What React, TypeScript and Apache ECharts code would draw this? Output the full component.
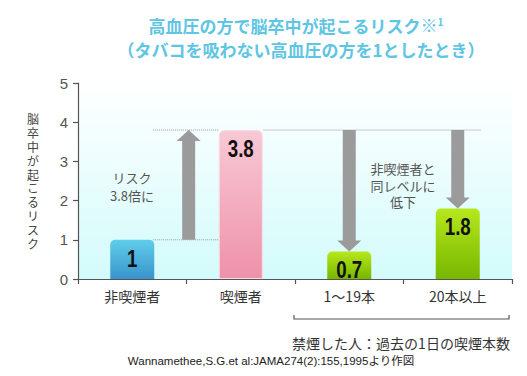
import React, { useEffect, useRef } from "react";
import * as echarts from "echarts";

const categories = ["非喫煙者", "喫煙者", "1〜19本", "20本以上"];
const riskValues = [1, 3.8, 0.7, 1.8];
const yTicks = { min: 0, max: 5, interval: 1 };
const yAxisName = "脳卒中が起こるリスク";
const titleLine1 = "高血圧の方で脳卒中が起こるリスク";
const titleLine2 = "（タバコを吸わない高血圧の方を1としたとき）";
const noteUp = "リスク\n3.8倍に";
const noteDown = "非喫煙者と\n同レベルに\n低下";
const bracketLabel = "禁煙した人：過去の1日の喫煙本数";
const citation = "Wannamethee,S.G.et al:JAMA274(2):155,1995より作図";
// arrows: [x position (category units), from, to]
const arrows = [
  [0.52, 1, 3.8],
  [2, 3.8, 0.7],
  [3, 3.8, 1.8],
];
// dotted guide lines: [x0, x1, y]
const guides = [
  [0.19, 0.8, 1],
  [0.19, 0.8, 3.8],
  [1.21, 3.21, 3.8],
];

const barColors = [
  ["#60cdea", "#3994cc"],
  ["#f8c9d5", "#ee91aa"],
  ["#b6e81c", "#78b600"],
  ["#b6e81c", "#78b600"],
];

const JP = '"Noto Sans CJK JP", "Noto Sans", sans-serif';

export default function App() {
  const ref = useRef<HTMLDivElement>(null);
  useEffect(() => {
    if (!ref.current) return;
    const chart = echarts.init(ref.current, null, { renderer: "svg" });
    const grad = (a: string, b: string) =>
      new echarts.graphic.LinearGradient(0, 0, 0, 1, [
        { offset: 0, color: a },
        { offset: 1, color: b },
      ]);
    const option: any = {
      animation: false,
      backgroundColor: "#ffffff",
      textStyle: { fontFamily: JP },
      title: [
        {
          text: titleLine1 + "{m|※}{s|1}",
          left: 291,
          top: 11,
          textAlign: "center",
          textStyle: {
            fontFamily: JP,
            fontSize: 17,
            fontWeight: "bold",
            color: "#5ec5e3",
            rich: {
              m: { fontFamily: JP, fontSize: 17, fontWeight: "bold", color: "#5ec5e3", verticalAlign: "top", padding: [0, 0, 2, 0] },
              s: { fontFamily: JP, fontSize: 10, fontWeight: "bold", color: "#5ec5e3", verticalAlign: "top", padding: [0, 0, 8, 0] },
            },
          },
        },
        {
          text: titleLine2,
          left: 296,
          top: 36,
          textAlign: "center",
          textStyle: { fontFamily: JP, fontSize: 17, fontWeight: "bold", color: "#5ec5e3" },
        },
      ],
      grid: {
        left: 78,
        right: 15,
        top: 83,
        bottom: 97,
        show: true,
        borderWidth: 0,
        backgroundColor: grad("#ffffff", "#d3fbfb"),
      },
      xAxis: [
        {
          type: "category",
          data: categories,
          boundaryGap: true,
          axisLine: { onZero: false, lineStyle: { color: "#555", width: 1.2 } },
          axisTick: { show: true, length: 5, lineStyle: { color: "#555", width: 1.2 } },
          axisLabel: { color: "#333", fontSize: 14, margin: 10, fontFamily: JP },
        },
        { type: "value", min: -0.5, max: 3.5, show: false, axisLine: { onZero: false } },
      ],
      yAxis: {
        type: "value",
        min: yTicks.min,
        max: yTicks.max,
        interval: yTicks.interval,
        axisLine: { show: true, onZero: false, lineStyle: { color: "#555", width: 1.2 } },
        axisTick: { show: true, length: 5, lineStyle: { color: "#555", width: 1.2 } },
        axisLabel: { color: "#555", fontSize: 15, margin: 10, fontFamily: '"Liberation Sans", Arial, sans-serif' },
        splitLine: { show: false },
      },
      series: [
        {
          type: "bar",
          xAxisIndex: 0,
          barWidth: 44,
          data: riskValues.map((v, i) => ({
            value: v,
            itemStyle: {
              color: grad(barColors[i][0], barColors[i][1]),
              borderRadius: [5, 5, 0, 0],
              borderColor: i === 1 ? "#fbdbe4" : undefined,
              borderWidth: i === 1 ? 1 : 0,
            },
          })),
          z: 2,
        },
        {
          type: "custom",
          xAxisIndex: 0,
          data: riskValues.map((v, i) => [i, v]),
          encode: { x: 0, y: 1 },
          z: 4,
          silent: true,
          renderItem: (params: any, api: any) => {
            const p = api.coord([api.value(0), api.value(1)]);
            return {
              type: "text",
              x: p[0],
              y: p[1] + 19,
              scaleX: 0.78,
              style: {
                text: String(api.value(1)),
                fontFamily: '"Liberation Sans", Arial, sans-serif',
                fontWeight: "bold",
                fontSize: 24,
                fill: "#111",
                align: "center",
                verticalAlign: "middle",
              },
            };
          },
        },
        ...guides.map((g) => ({
          type: "line",
          xAxisIndex: 1,
          data: [
            [g[0], g[2]],
            [g[1], g[2]],
          ],
          symbol: "none",
          silent: true,
          lineStyle: { type: "dotted", color: "#9a9a9a", width: 1 },
          z: 1,
        })),
        {
          type: "custom",
          xAxisIndex: 1,
          data: arrows,
          encode: { x: 0, y: [1, 2] },
          z: 3,
          renderItem: (params: any, api: any) => {
            const x = api.value(0);
            const p0 = api.coord([x, api.value(1)]);
            const p1 = api.coord([x, api.value(2)]);
            const cx = p0[0];
            const dir = p1[1] < p0[1] ? -1 : 1;
            const hw = 6.5;
            const hh = 12;
            const hl = 11;
            const tip = p1[1];
            const base = tip - dir * hl;
            return {
              type: "polygon",
              shape: {
                points: [
                  [cx - hw, p0[1]],
                  [cx - hw, base],
                  [cx - hh, base],
                  [cx, tip],
                  [cx + hh, base],
                  [cx + hw, base],
                  [cx + hw, p0[1]],
                ],
              },
              style: { fill: "#9b9b9b" },
            };
          },
        },
      ],
      graphic: [
        {
          type: "text",
          x: 33,
          y: 181,
          style: {
            text: yAxisName.split("").join("\n"),
            fontFamily: JP,
            fontSize: 12,
            lineHeight: 13.8,
            fill: "#444",
            align: "center",
            verticalAlign: "middle",
          },
        },
        {
          type: "text",
          x: 132,
          y: 186,
          style: {
            text: noteUp,
            fontFamily: JP,
            fontSize: 13,
            lineHeight: 18,
            fill: "#555",
            align: "center",
            verticalAlign: "middle",
          },
        },
        {
          type: "text",
          x: 403,
          y: 185,
          style: {
            text: noteDown,
            fontFamily: JP,
            fontSize: 13,
            lineHeight: 16.5,
            fill: "#555",
            align: "center",
            verticalAlign: "middle",
          },
        },
        {
          type: "polyline",
          shape: {
            points: [
              [294, 315],
              [294, 319],
              [509, 319],
              [509, 315],
            ],
          },
          style: { stroke: "#555", lineWidth: 1.2, fill: null },
        },
        {
          type: "text",
          x: 401,
          y: 343,
          style: {
            text: bracketLabel,
            fontFamily: JP,
            fontSize: 14,
            fill: "#333",
            align: "center",
            verticalAlign: "middle",
          },
        },
        {
          type: "text",
          x: 271,
          y: 361,
          style: {
            text: citation,
            fontFamily: '"Liberation Sans", "Noto Sans CJK JP", sans-serif',
            fontSize: 11.5,
            fill: "#222",
            align: "center",
            verticalAlign: "middle",
          },
        },
      ],
    };
    chart.setOption(option);
    return () => chart.dispose();
  }, []);
  return <div ref={ref} style={{ width: 527, height: 376, position: "absolute", left: 0, top: 0 }} />;
}
